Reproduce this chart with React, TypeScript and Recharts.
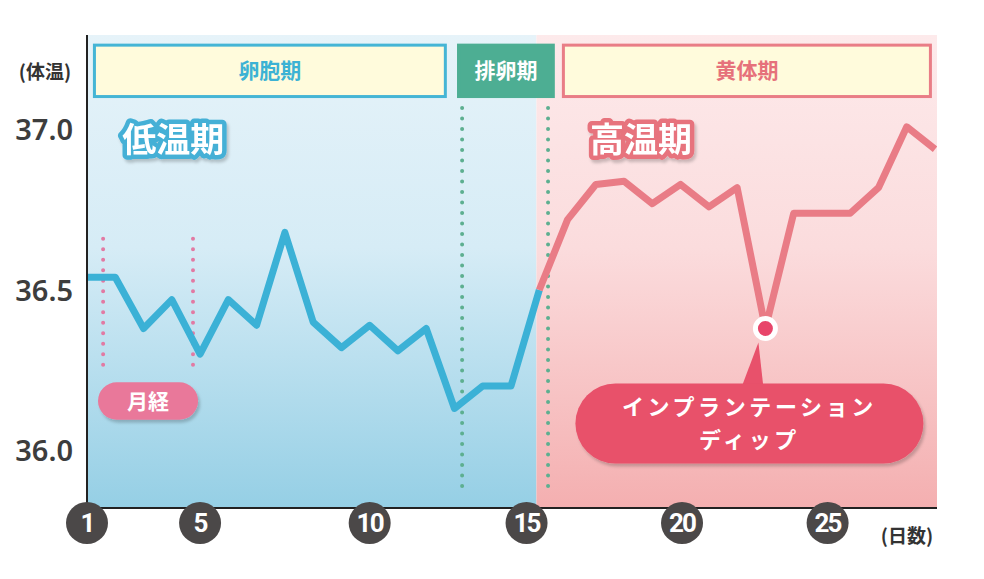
import React from 'react';
import {
  LineChart, Line, XAxis, YAxis, ReferenceArea, ReferenceLine, ReferenceDot,
} from 'recharts';

// ---- data ----
const days = [1,2,3,4,5,6,7,8,9,10,11,12,13,14,15,16,17,18,19,20,21,22,23,24,25,26,27,28,29,30,31];
const temps = [36.54,36.54,36.38,36.47,36.30,36.47,36.39,36.68,36.40,36.32,36.39,36.31,36.38,36.13,36.20,36.20,36.50,36.72,36.83,36.84,36.77,36.83,36.76,36.82,36.38,36.74,36.74,36.74,36.82,37.01,36.94];
const lowPhaseEnd = 17; // last day drawn in blue, first day drawn in red
const dipDay = 25;
const tempTicks = [36.0, 36.5, 37.0];
const tempTickLabels = ['36.0', '36.5', '37.0'];
const dayTicks = [1, 5, 11, 16.55, 22.05, 27.2];
const dayTickLabels = ['1', '5', '10', '15', '20', '25'];
const xDomain = [1, 31.07];
const yDomain = [35.819, 37.297];
const lowBandEnd = 16.9;
const phaseNames = ['卵胞期', '排卵期', '黄体期'];
const phaseStarts = [1.21, 14.09, 17.8];
const phaseEnds = [13.73, 17.55, 30.89];
const phaseBoxTop = 37.27;
const phaseBoxBottom = 37.1;
const mensesDays = [1.57, 4.75];
const mensesTop = 36.66;
const mensesBottom = 36.235;
const ovulationDays = [14.27, 17.31];
const ovulationTop = 37.069;
const ovulationBottom = 35.866;
const mensesPill = { x1: 1.39, x2: 4.93, y1: 36.095, y2: 36.212 };
const lowLabel = { day: 4.05, temp: 36.97, text: '低温期' };
const highLabel = { day: 20.6, temp: 36.97, text: '高温期' };
const dipLines = ['インプランテーション', 'ディップ'];

const table = days.map((d, i) => ({
  day: d,
  low: d <= lowPhaseEnd ? temps[i] : null,
  high: d >= lowPhaseEnd ? temps[i] : null,
}));

const JP = '"Noto Sans CJK JP", "Noto Sans", sans-serif';

const phaseStyles = [
  { fill: '#fffbdc', stroke: '#45b5d5', text: '#3cb2d4' },
  { fill: '#4dae93', stroke: '#4dae93', text: '#ffffff' },
  { fill: '#fffbdc', stroke: '#e97d86', text: '#e6717b' },
];

const XTick = (props: any) => {
  const { x, y, payload } = props;
  const idx = dayTicks.indexOf(payload.value);
  const label = idx >= 0 ? dayTickLabels[idx] : String(payload.value);
  return (
    <g>
      <circle cx={x} cy={y + 15} r={21} fill="#4b4848" />
      <text x={x} y={y + 15} dy="0.36em" textAnchor="middle" fill="#fff"
        fontFamily="Roboto, sans-serif" fontWeight={700} fontSize={26} letterSpacing={-1.8}>
        {label}
      </text>
    </g>
  );
};

const YTick = (props: any) => {
  const { x, y, payload } = props;
  const idx = tempTicks.indexOf(payload.value);
  const label = idx >= 0 ? tempTickLabels[idx] : String(payload.value);
  return (
    <text x={x} y={y} dy="0.36em" textAnchor="end" fill="#3d3d3d"
      fontFamily='"Noto Sans", sans-serif' fontWeight={600} fontSize={29}>
      {label}
    </text>
  );
};

const outlinedText = (text: string, color: string) => (props: any) => {
  const { cx, cy } = props;
  return (
    <text x={cx} y={cy} dy="0.36em" textAnchor="middle" fontFamily={JP} fontWeight={700}
      fontSize={34} fill="#fff" stroke={color} strokeWidth={9} strokeLinejoin="round"
      filter="url(#softShadow)" style={{ paintOrder: 'stroke' }}>{text}</text>
  );
};

const DipShape = (props: any) => {
  const { cx, cy } = props;
  const pillLeft = cx - 190;
  const pillTop = cy + 55;
  const pillW = 348;
  const pillH = 80;
  const tx = pillLeft + pillW / 2;
  return (
    <g>
      <path d={`M ${cx - 7} ${cy + 14} L ${cx - 24} ${pillTop + 4} L ${cx - 2} ${pillTop + 4} Z`} fill="#e8516b" />
      <rect x={pillLeft} y={pillTop} width={pillW} height={pillH} rx={40} fill="#e8516b" filter="url(#softShadow)" />
      <text x={tx} y={pillTop + 23.5} dy="0.36em" textAnchor="middle" fill="#fff" fontFamily={JP}
        fontWeight={700} fontSize={22} letterSpacing={3.6}>{dipLines[0]}</text>
      <text x={tx} y={pillTop + 57} dy="0.36em" textAnchor="middle" fill="#fff" fontFamily={JP}
        fontWeight={700} fontSize={22} letterSpacing={3.6}>{dipLines[1]}</text>
      <circle cx={cx} cy={cy} r={10} fill="#e8456a" stroke="#fff" strokeWidth={5} />
    </g>
  );
};

export default function App() {
  return (
    <div style={{ position: 'absolute', left: 0, top: 0, width: 984, height: 579, background: '#fff' }}>
      <LineChart width={984} height={579} data={table} margin={{ top: 35, right: 47, bottom: 0, left: 0 }}>
        <defs>
          <linearGradient id="blueBg" x1="0" y1="0" x2="0" y2="1">
            <stop offset="0%" stopColor="#e6f3f9" />
            <stop offset="45%" stopColor="#d6ecf6" />
            <stop offset="100%" stopColor="#95cfe5" />
          </linearGradient>
          <linearGradient id="redBg" x1="0" y1="0" x2="0" y2="1">
            <stop offset="0%" stopColor="#fdeaeb" />
            <stop offset="45%" stopColor="#fbdcdd" />
            <stop offset="100%" stopColor="#f4afb0" />
          </linearGradient>
          <filter id="softShadow" x="-20%" y="-30%" width="140%" height="160%">
            <feDropShadow dx="2" dy="3" stdDeviation="1.5" floodColor="#000" floodOpacity="0.2" />
          </filter>
        </defs>
        <XAxis dataKey="day" type="number" domain={xDomain} ticks={dayTicks} allowDataOverflow
          height={71} axisLine={{ stroke: '#222', strokeWidth: 2 }} tickLine={false} tickSize={0} tickMargin={0}
          tick={<XTick />} interval={0}
          label={{
            content: (p: any) => {
              const vb = p.viewBox;
              return (
                <text x={vb.x + vb.width - 30} y={vb.y + 28} dy="0.36em" textAnchor="middle"
                  fontFamily={JP} fontWeight={700} fontSize={19} fill="#333">(日数)</text>
              );
            },
          }}
        />
        <YAxis type="number" domain={yDomain} ticks={tempTicks} allowDataOverflow width={87}
          axisLine={{ stroke: '#222', strokeWidth: 2 }} tickLine={false} tickSize={0} tickMargin={14}
          tick={<YTick />} interval={0}
          label={{
            content: (p: any) => {
              const vb = p.viewBox;
              return (
                <text x={vb.x + 45} y={vb.y + 37} dy="0.36em" textAnchor="middle"
                  fontFamily={JP} fontWeight={700} fontSize={19} fill="#333">(体温)</text>
              );
            },
          }}
        />
        <ReferenceArea x1={xDomain[0]} x2={lowBandEnd} fill="url(#blueBg)" fillOpacity={1} stroke="none" ifOverflow="visible" />
        <ReferenceArea x1={lowBandEnd} x2={xDomain[1]} fill="url(#redBg)" fillOpacity={1} stroke="none" ifOverflow="visible" />
        {phaseNames.map((name, i) => (
          <ReferenceArea key={name} x1={phaseStarts[i]} x2={phaseEnds[i]} y1={phaseBoxBottom} y2={phaseBoxTop}
            ifOverflow="visible"
            shape={(p: any) => (
              <g>
                <rect x={p.x + 1.5} y={p.y + 1.5} width={p.width - 3} height={p.height - 3}
                  fill={phaseStyles[i].fill} stroke={phaseStyles[i].stroke} strokeWidth={3} />
                <text x={p.x + p.width / 2} y={p.y + p.height / 2} dy="0.36em" textAnchor="middle"
                  fontFamily={JP} fontWeight={700} fontSize={21} fill={phaseStyles[i].text}>{name}</text>
              </g>
            )}
          />
        ))}
        {mensesDays.map((d) => (
          <ReferenceLine key={'m' + d} segment={[{ x: d, y: mensesTop }, { x: d, y: mensesBottom }]}
            stroke="#e27aa3" strokeWidth={4} strokeDasharray="0 10.5" strokeLinecap="round" ifOverflow="visible" />
        ))}
        {ovulationDays.map((d) => (
          <ReferenceLine key={'o' + d} segment={[{ x: d, y: ovulationTop }, { x: d, y: ovulationBottom }]}
            stroke="#5daf90" strokeWidth={4} strokeDasharray="0 10.5" strokeLinecap="round" ifOverflow="visible" />
        ))}
        <ReferenceArea x1={mensesPill.x1} x2={mensesPill.x2} y1={mensesPill.y1} y2={mensesPill.y2} ifOverflow="visible"
          shape={(p: any) => (
            <g>
              <rect x={p.x} y={p.y} width={p.width} height={p.height} rx={p.height / 2} fill="#e9789a" filter="url(#softShadow)" />
              <text x={p.x + p.width / 2} y={p.y + p.height / 2} dy="0.36em" textAnchor="middle"
                fontFamily={JP} fontWeight={700} fontSize={21} fill="#fff">月経</text>
            </g>
          )}
        />
        <Line dataKey="low" type="linear" stroke="#3bb1d6" strokeWidth={7} dot={false} activeDot={false}
          isAnimationActive={false} strokeLinejoin="round" connectNulls={false} />
        <Line dataKey="high" type="linear" stroke="#e97c86" strokeWidth={7} dot={false} activeDot={false}
          isAnimationActive={false} strokeLinejoin="round" connectNulls={false} />
        <ReferenceDot x={lowLabel.day} y={lowLabel.temp} r={0} ifOverflow="visible" shape={outlinedText(lowLabel.text, '#45b0d6')} />
        <ReferenceDot x={highLabel.day} y={highLabel.temp} r={0} ifOverflow="visible" shape={outlinedText(highLabel.text, '#e7737d')} />
        <ReferenceDot x={dipDay} y={temps[dipDay - 1]} r={10} ifOverflow="visible" shape={<DipShape />} />
      </LineChart>
    </div>
  );
}
